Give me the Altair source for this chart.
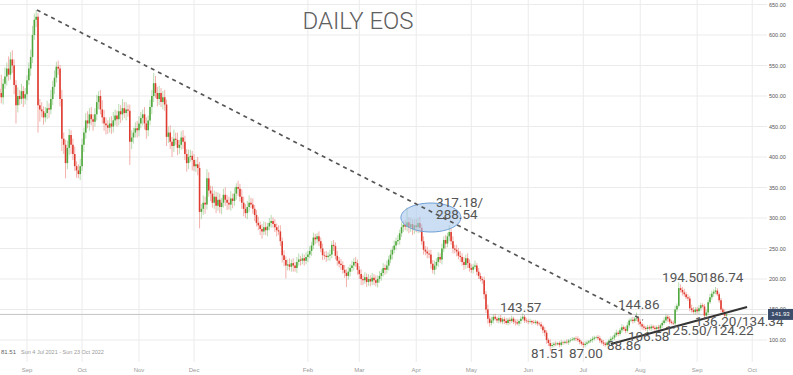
import altair as alt
import pandas as pd

# ---------------- data ----------------
first_open = 512
close_aug21 = [505, 498, 520, 532, 545, 535, 560, 550, 518, 485, 500, 495, 508, 496, 503]
close_sep21 = [526, 545, 564, 600, 625, 630, 485, 478, 475, 465, 472, 480, 478, 495, 515,
               530, 548, 545, 495, 430, 420, 390, 415, 436, 420, 405, 385, 378, 372, 385]
close_oct21 = [420, 440, 460, 455, 470, 462, 458, 470, 490, 500, 478, 465, 455, 452, 448, 455,
               450, 460, 468, 462, 475, 470, 480, 472, 478, 476, 425, 432, 440, 447, 444]
close_nov21 = [455, 464, 470, 455, 444, 460, 482, 500, 521, 505, 495, 505, 490, 498, 486,
               433, 440, 425, 418, 430, 428, 415, 420, 432, 425, 405, 390, 400, 402, 395]
close_dec21 = [385, 388, 382, 310, 315, 325, 322, 365, 345, 340, 325, 335, 320, 330, 318, 325,
               338, 330, 325, 322, 332, 328, 340, 351, 348, 335, 325, 315, 308, 318, 325]
close_jan22 = [322, 315, 305, 292, 288, 282, 278, 285, 280, 286, 292, 295, 290, 285, 280, 278,
               262, 239, 231, 222, 224, 220, 226, 222, 218, 228, 232, 230, 234, 230, 236]
close_feb22 = [240, 246, 255, 268, 265, 270, 262, 250, 239, 238, 236, 238, 240, 256,
               254, 238, 230, 225, 223, 215, 210, 205, 212, 218, 222, 228, 226, 215]
close_mar22 = [208, 200, 198, 203, 195, 200, 196, 202, 198, 194, 200, 205, 210, 218, 215, 222,
               232, 240, 248, 255, 262, 264, 275, 285, 289, 286, 293, 285, 290, 282, 288]
close_apr22 = [285, 292, 284, 262, 248, 245, 242, 240, 225, 215, 222, 228, 236, 232, 250,
               264, 258, 270, 277, 262, 250, 248, 245, 238, 236, 228, 223, 234, 226, 218]
close_may22 = [215, 220, 222, 212, 205, 200, 198, 175, 150, 135, 128, 132, 138, 135, 132, 136,
               130, 134, 131, 128, 133, 131, 135, 130, 129, 127, 131, 135, 138, 132, 131]
close_jun22 = [130, 131, 129, 128, 130, 127, 126, 122, 116, 112, 100, 95, 90, 92, 94,
               93, 95, 92, 96, 95, 97, 96, 99, 100, 101, 103, 102, 100, 97, 94]
close_jul22 = [92, 94, 96, 98, 100, 102, 104, 105, 103, 99, 96, 94, 92, 96, 99, 102,
               104, 108, 112, 110, 116, 121, 118, 115, 124, 132, 133, 131, 135, 136, 130]
close_aug22 = [126, 122, 120, 118, 121, 119, 122, 120, 118, 121, 119, 124, 128, 132, 138, 135,
               130, 128, 127, 150, 156, 185, 182, 178, 175, 170, 168, 152, 149, 146, 150]
close_sep22 = [147, 152, 157, 155, 140, 145, 162, 170, 176, 179, 181, 175, 165, 150, 146, 140, 141.93]

upper_wick = (
    [12, 30, 8, 15, 10, 20, 12, 15, 10, 8, 14, 10, 12, 8, 10]
    + [8, 10, 12, 15, 10, 11, 6, 10, 12, 8, 10, 12, 8, 15, 10, 12, 8, 10, 6, 15, 10, 8, 12, 10, 8, 10, 12, 8, 10, 12]
    + [10, 8, 12, 15, 10, 12, 8, 10, 12, 8, 10, 15, 12, 10, 8, 10, 12, 14, 10, 8, 12, 10, 15, 10, 12, 8, 10, 12, 8, 10, 12]
    + [12, 10, 8, 12, 10, 8, 12, 10, 17, 12, 10, 12, 8, 10, 12, 8, 10, 12, 8, 15, 10, 12, 8, 10, 12, 10, 8, 12, 10, 8]
    + [10, 8, 12, 10, 8, 12, 10, 15, 10, 8, 12, 10, 8, 12, 10, 8, 10, 12, 8, 10, 12, 8, 10, 6, 10, 8, 12, 10, 8, 10, 12]
    + [8, 10, 6, 8, 10, 6, 8, 10, 8, 6, 8, 10, 6, 8, 6, 8, 10, 6, 8, 6, 8, 10, 6, 8, 6, 8, 10, 6, 8, 6, 8]
    + [6, 8, 6, 8, 6, 5, 8, 6, 8, 6, 8, 6, 8, 6, 8, 6, 8, 6, 8, 6, 8, 6, 8, 6, 8, 6, 8, 6]
    + [6, 8, 6, 8, 6, 8, 6, 8, 6, 8, 6, 8, 6, 8, 6, 8, 6, 8, 6, 8, 6, 8, 6, 8, 6, 8, 24, 8, 10, 8, 10]
    + [10, 8, 10, 6, 8, 6, 8, 6, 8, 6, 8, 6, 8, 6, 8, 6, 8, 6, 11, 6, 8, 6, 8, 6, 8, 6, 8, 6, 8, 6]
    + [6, 5, 8, 4, 6, 5, 4, 6, 5, 8, 5, 6, 4, 5, 3, 4, 5, 3, 4, 5, 3, 4, 5, 3, 4, 5, 3, 4, 5, 3, 4]
    + [3, 4, 2, 4, 3, 2, 3, 4, 3, 5, 4, 3, 6, 4, 3, 4, 2, 3, 4, 3, 2, 4, 3, 3, 4, 2, 3, 4, 3, 2]
    + [3, 4, 3, 2, 3, 4, 3, 2, 3, 4, 3, 4, 3, 2, 3, 4, 3, 4, 5, 3, 4, 5, 3, 4, 5, 3, 4, 5, 3, 4, 3]
    + [4, 3, 4, 3, 4, 3, 4, 3, 4, 3, 4, 3, 4, 5, 4, 3, 4, 3, 4, 6, 4, 5, 6, 5, 6, 4, 5, 4, 6, 5, 4]
    + [4, 5, 4, 3, 4, 5, 4, 6, 5, 4, 5, 4, 3, 4, 3, 4, 2]
)
lower_wick = (
    [25, 10, 12, 8, 15, 10, 8, 12, 15, 30, 12, 10, 8, 14, 10]
    + [10, 8, 12, 10, 8, 12, 45, 20, 10, 12, 8, 10, 14, 8, 10, 12, 8, 10, 12, 20, 15, 25, 10, 12, 15, 10, 8, 12, 7, 10]
    + [8, 12, 10, 8, 12, 10, 15, 8, 10, 12, 8, 10, 12, 15, 10, 8, 12, 10, 8, 12, 10, 14, 10, 8, 12, 10, 38, 12, 10, 8, 12]
    + [10, 8, 12, 10, 14, 10, 8, 12, 10, 8, 12, 10, 8, 12, 10, 15, 10, 12, 18, 10, 8, 12, 10, 8, 12, 10, 14, 10, 8, 17]
    + [8, 10, 12, 27, 12, 10, 15, 8, 10, 12, 8, 10, 12, 8, 10, 12, 8, 10, 12, 8, 10, 12, 8, 10, 12, 8, 10, 12, 8, 10, 8]
    + [6, 8, 10, 6, 8, 10, 12, 6, 8, 10, 6, 8, 6, 8, 10, 6, 8, 12, 10, 21, 8, 6, 8, 10, 6, 8, 6, 8, 6, 8, 6]
    + [8, 6, 8, 6, 8, 6, 8, 6, 8, 6, 8, 6, 8, 6, 8, 6, 8, 6, 8, 6, 8, 18, 6, 8, 6, 8, 6, 8]
    + [8, 10, 8, 6, 8, 6, 8, 6, 8, 6, 8, 6, 8, 6, 8, 6, 8, 6, 8, 6, 8, 6, 8, 6, 8, 6, 8, 10, 8, 10, 8]
    + [8, 10, 8, 6, 8, 6, 8, 6, 8, 6, 8, 6, 8, 6, 8, 6, 8, 6, 8, 6, 8, 6, 8, 6, 8, 6, 8, 6, 8, 6]
    + [5, 6, 4, 6, 5, 4, 6, 8, 6, 8, 6, 4, 5, 3, 4, 5, 3, 4, 5, 3, 4, 5, 3, 4, 5, 3, 4, 5, 3, 4, 3]
    + [4, 3, 4, 2, 3, 4, 3, 4, 5, 6, 6, 5, 4, 3, 4, 3, 2, 4, 3, 3, 2, 3, 4, 3, 2, 3, 4, 3, 4, 3]
    + [3, 4, 3, 2, 3, 4, 3, 2, 3, 4, 3, 4, 3, 2, 3, 4, 3, 4, 3, 4, 3, 4, 3, 4, 3, 4, 3, 4, 3, 4, 5]
    + [4, 5, 4, 3, 4, 3, 4, 3, 4, 3, 4, 3, 4, 3, 4, 5, 4, 3, 4, 5, 4, 3, 4, 5, 4, 3, 4, 5, 4, 3, 4]
    + [4, 5, 4, 3, 4, 5, 4, 3, 4, 5, 4, 3, 4, 5, 4, 3, 2]
)

# extreme highs / lows that are labelled on the chart
high_dates = ["2021-09-06", "2022-03-27", "2022-04-19", "2022-05-29", "2022-07-30", "2022-08-22", "2022-09-11"]
high_values = [641, 317.18, 288.54, 143.57, 144.86, 194.50, 186.74]
low_dates = ["2022-06-13", "2022-07-01", "2022-07-13", "2022-08-05", "2022-08-18", "2022-08-19", "2022-09-05", "2022-09-06"]
low_values = [81.51, 87.00, 88.86, 106.58, 125.50, 124.22, 136.20, 134.34]

# annotations: (label, days after 1 Sep 2021, price)
ann_labels = ["317.18/", "288.54", "143.57", "81.51", "87.00", "88.86", "106.58",
              "144.86", "125.50/124.22", "136.20/134.34", "194.50", "186.74"]
ann_days = [222.8, 222.8, 257.6, 274.5, 295.2, 315.9, 327.3, 321.9, 347.5, 363.8, 345.9, 367.6]
ann_prices = [324.6, 304.9, 152.5, 77, 77, 90.2, 104.9, 157.4, 114.8, 129.5, 201.6, 201.6]

# trend lines (days after 1 Sep 2021, price)
down_days = [5.4, 335.5]
down_prices = [641, 132.8]
up_days = [318, 392.2]
up_prices = [93.4, 154.1]

# highlighted area
circle_day = [220]
circle_price = [300.8]

last_price = 141.93
y_ticks = [100, 150, 200, 250, 300, 350, 400, 450, 500, 550, 600, 650]
month_ticks = ["2021-09-01", "2021-10-01", "2021-11-01", "2021-12-01", "2022-02-01", "2022-03-01",
               "2022-04-01", "2022-05-01", "2022-06-01", "2022-07-01", "2022-08-01", "2022-09-01", "2022-10-01"]
month_labels = ["Sep", "Oct", "Nov", "Dec", "Feb", "Mar", "Apr", "May", "Jun", "Jul", "Aug", "Sep", "Oct"]

# ---------------- build table ----------------
closes = (close_aug21 + close_sep21 + close_oct21 + close_nov21 + close_dec21 + close_jan22 + close_feb22
          + close_mar22 + close_apr22 + close_may22 + close_jun22 + close_jul22 + close_aug22 + close_sep22)
assert len(closes) == len(upper_wick) == len(lower_wick), (len(closes), len(upper_wick), len(lower_wick))
dates = pd.date_range("2021-08-17", periods=len(closes), freq="D")
opens = [first_open] + closes[:-1]
highs = [max(o, c) + u for o, c, u in zip(opens, closes, upper_wick)]
lows = [min(o, c) - l for o, c, l in zip(opens, closes, lower_wick)]
date_str = list(dates.strftime("%Y-%m-%d"))
for d, v in zip(high_dates, high_values):
    highs[date_str.index(d)] = v
for d, v in zip(low_dates, low_values):
    lows[date_str.index(d)] = v
df = pd.DataFrame({"date": date_str, "open": opens, "close": closes, "high": highs, "low": lows,
                   "dir": ["up" if c >= o else "down" for o, c in zip(opens, closes)]})

base = pd.Timestamp("2021-09-01")


def iso(day):
    return (base + pd.Timedelta(days=day)).strftime("%Y-%m-%dT%H:%M:%SZ")


def ms(ts):
    return int(pd.Timestamp(ts).value // 10**6)


ann_df = pd.DataFrame({"date": [iso(d) for d in ann_days], "price": ann_prices, "label": ann_labels})
down_df = pd.DataFrame({"date": [iso(d) for d in down_days], "price": down_prices})
up_df = pd.DataFrame({"date": [iso(d) for d in up_days], "price": up_prices})
circ_df = pd.DataFrame({"date": [iso(d) for d in circle_day], "price": circle_price})
ytick_df = pd.DataFrame({"v": y_ticks})
xtick_df = pd.DataFrame({"date": month_ticks, "label": month_labels})
one_row = pd.DataFrame({"k": [0]})

W, H = 767, 362
x_scale = alt.Scale(type="utc", domain=[ms(base + pd.Timedelta(days=-14.7)), ms(base + pd.Timedelta(days=403.05))])
y_scale = alt.Scale(domain=[63.93, 657.4], nice=False, zero=False)
SMALL_FONT = "Liberation Sans"

color = alt.Color("dir:N", scale=alt.Scale(domain=["up", "down"], range=["#4fa83d", "#df3a2e"]), legend=None)

hgrid = alt.Chart(ytick_df).mark_rule(color="#ebebeb", strokeWidth=1).encode(
    y=alt.Y("v:Q", scale=y_scale, axis=None))
vgrid = alt.Chart(xtick_df).mark_rule(color="#ebebeb", strokeWidth=1).encode(
    x=alt.X("date:T", scale=x_scale, axis=None))

ylabels = alt.Chart(ytick_df).mark_text(align="left", baseline="middle", fontSize=5.5, font=SMALL_FONT,
                                        color="#555").encode(
    x=alt.value(769), y=alt.Y("v:Q", axis=None), text=alt.Text("v:Q", format=".2f"))
xlabels = alt.Chart(xtick_df).mark_text(align="center", baseline="middle", fontSize=6, font=SMALL_FONT,
                                        color="#999").encode(
    x=alt.X("date:T", axis=None), y=alt.value(369.5), text="label:N")

wicks = alt.Chart(df).mark_rule(strokeWidth=1, opacity=0.4).encode(
    x=alt.X("date:T", axis=None), y=alt.Y("low:Q", axis=None), y2="high:Q", color=color)

bodies = alt.Chart(df).mark_rule(strokeWidth=1.6).encode(
    x=alt.X("date:T", axis=None), y=alt.Y("open:Q", axis=None), y2="close:Q", color=color)

price_line = alt.Chart(one_row).mark_rule(color="#c4c4c4", strokeWidth=1).encode(
    y=alt.Y(datum=last_price, axis=None))

ellipse = alt.Chart(circ_df).mark_point(
    shape="M-1,0 A1,0.483 0 1,0 1,0 A1,0.483 0 1,0 -1,0 Z", size=3600, filled=True,
    fill="#a9c8ec", fillOpacity=0.6, stroke="#6f9fd6", strokeWidth=1, opacity=1
).encode(x=alt.X("date:T", axis=None), y=alt.Y("price:Q", axis=None))

down_line = alt.Chart(down_df).mark_line(color="#555555", strokeWidth=1.7, strokeDash=[4, 4]).encode(
    x=alt.X("date:T", axis=None), y=alt.Y("price:Q", axis=None))

up_line = alt.Chart(up_df).mark_line(color="#333333", strokeWidth=2).encode(
    x=alt.X("date:T", axis=None), y=alt.Y("price:Q", axis=None))

ann = alt.Chart(ann_df).mark_text(align="left", baseline="middle", fontSize=13.5, font="Roboto",
                                  color="#555555").encode(
    x=alt.X("date:T", axis=None), y=alt.Y("price:Q", axis=None), text="label:N")

title = alt.Chart(one_row).mark_text(text="DAILY EOS", fontSize=24, fontWeight=300, font="Roboto",
                                     color="#606060", align="center", baseline="middle").encode(
    x=alt.value(358), y=alt.value(22))

info1 = alt.Chart(one_row).mark_text(text="81.51", fontSize=6, font=SMALL_FONT, color="#666",
                                     align="left", baseline="middle").encode(x=alt.value(1), y=alt.value(352))
info2 = alt.Chart(one_row).mark_text(text="Sun 4 Jul 2021 - Sun 23 Oct 2022", fontSize=5.5, font=SMALL_FONT,
                                     color="#999", align="left", baseline="middle").encode(
    x=alt.value(21), y=alt.value(352))

price_box = alt.Chart(one_row).mark_rule(color="#3b4d6b", strokeWidth=11).encode(
    x=alt.value(768), x2=alt.value(793), y=alt.Y(datum=last_price, axis=None))
price_txt = alt.Chart(one_row).mark_text(text="141.93", fontSize=6, font=SMALL_FONT, color="white",
                                         align="center", baseline="middle").encode(
    x=alt.value(780.5), y=alt.Y(datum=last_price, axis=None))

chart = alt.layer(
    hgrid, vgrid, ylabels, xlabels, price_line, wicks, bodies, ellipse, down_line, up_line, ann, title,
    info1, info2, price_box, price_txt
).properties(
    width=W, height=H, autosize=alt.AutoSizeParams(type="none"),
    padding={"left": 0, "top": 0, "right": 26, "bottom": 13},
    background="white"
).configure_view(stroke=None)

chart.save("out.html", embed_options={"renderer": "svg", "actions": False})
